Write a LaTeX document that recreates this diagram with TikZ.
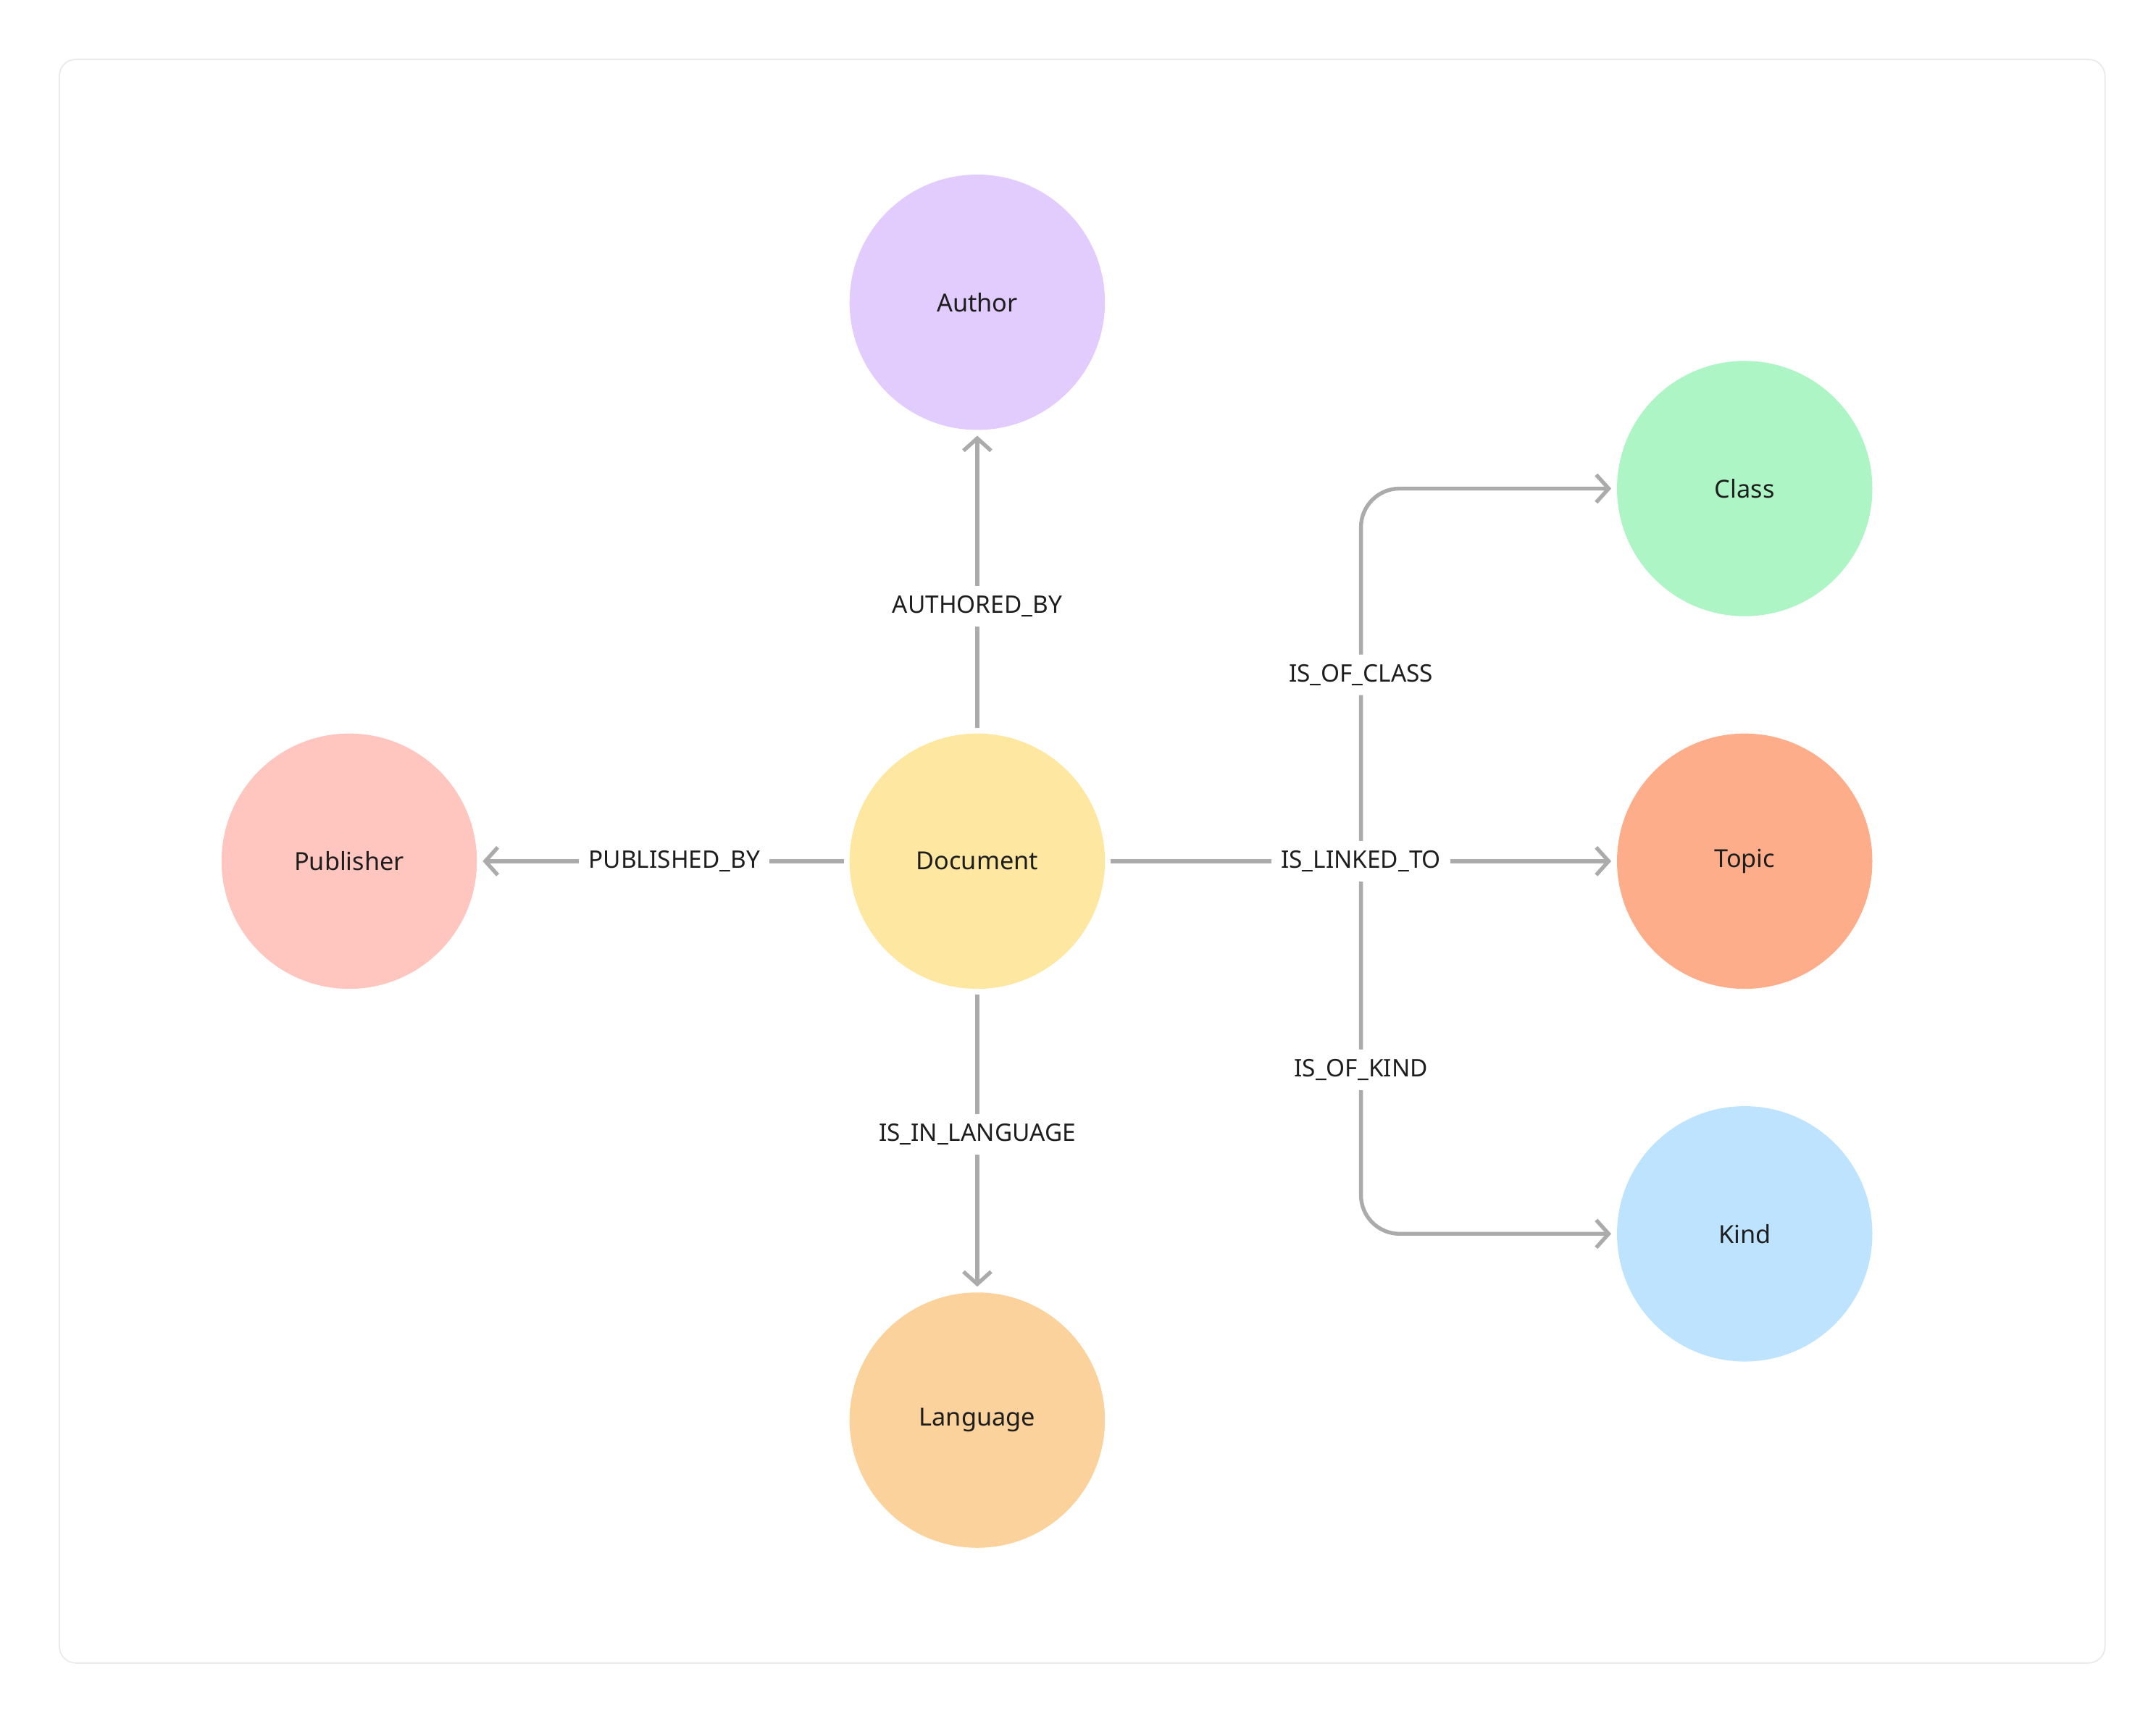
\documentclass[tikz,border=0pt]{standalone}
\usepackage{fontspec}
\setmainfont{Noto Sans}
\usetikzlibrary{arrows.meta}
\definecolor{edgegray}{HTML}{ABABAB}
\definecolor{txt}{HTML}{1E1E1E}
\begin{document}
\begin{tikzpicture}[x=1pt,y=-1pt,
  entity/.style={circle,minimum size=185pt,inner sep=0pt,text=txt,font=\fontsize{18}{21}\selectfont},
  rel/.style={draw=edgegray,line width=2.8pt,-{Straight Barb[length=9pt,width=20pt,line width=2.8pt]},shorten >=4pt,shorten <=4pt},
  lbl/.style={fill=white,text=txt,inner sep=7pt,font=\fontsize{17.5}{20}\selectfont}]
\useasboundingbox (0,0) rectangle (1562,1243);
\draw[draw=black!8,line width=1pt,rounded corners=12pt] (43,43) rectangle (1525,1205);

% entities
\node[entity,fill={rgb,255:red,254;green,231;blue,161}] (doc) at (708,624) {Document};
\node[entity,fill={rgb,255:red,226;green,203;blue,253}] (author) at (708,219) {Author};
\node[entity,fill={rgb,255:red,255;green,198;blue,192}] (pub) at (253,624) {Publisher};
\node[entity,fill={rgb,255:red,251;green,209;blue,156}] (lang) at (708,1029) {Language};
\node[entity,fill={rgb,255:red,174;green,245;blue,198}] (cls) at (1264,354) {Class};
\node[entity,fill={rgb,255:red,254;green,173;blue,138}] (topic) at (1264,624) {Topic};
\node[entity,fill={rgb,255:red,190;green,227;blue,254}] (kind) at (1264,894) {Kind};
\coordinate (br) at (986,624);

% relations
\draw[rel] (doc) -- node[lbl,pos=0.42] {AUTHORED\_BY} (author);
\draw[rel] (doc) -- node[lbl,pos=0.47] {PUBLISHED\_BY} (pub);
\draw[rel] (doc) -- node[lbl,pos=0.48] {IS\_IN\_LANGUAGE} (lang);
\draw[rel] (doc) -- node[lbl,pos=0.5] {IS\_LINKED\_TO} (topic);
\draw[rel,shorten <=0pt,rounded corners=28pt] (br) |- node[lbl,pos=0.25] {IS\_OF\_CLASS} (cls);
\draw[rel,shorten <=0pt,rounded corners=28pt] (br) |- node[lbl,pos=0.28] {IS\_OF\_KIND} (kind);
\node[lbl] at (br) {IS\_LINKED\_TO};
\end{tikzpicture}
\end{document}
